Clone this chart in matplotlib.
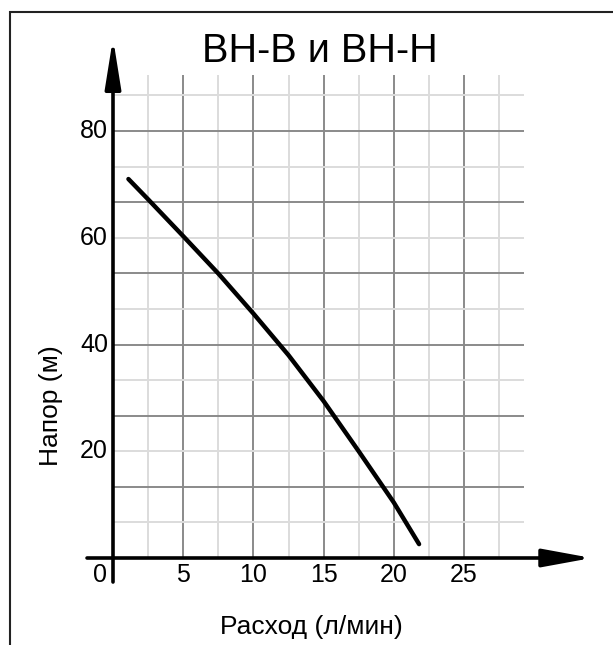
import matplotlib
matplotlib.use("Agg")
import matplotlib.pyplot as plt
import matplotlib.patches as patches
import numpy as np

plt.rcParams['font.family'] = ['Liberation Sans', 'DejaVu Sans']

# Curve: flow (l/min) vs head (m)
flow = [1.1, 2.5, 5.0, 7.5, 10.0, 12.5, 15.0, 17.5, 20.0, 21.8]
head = [71.0, 67.2, 60.3, 53.3, 45.8, 38.0, 29.4, 20.0, 10.4, 2.6]

x_ticks = [5, 10, 15, 20, 25]
y_ticks = [20, 40, 60, 80]
title = 'BH-B и BH-H'
x_label = 'Расход (л/мин)'
y_label = 'Напор (м)'

W, H = 613, 645
fig = plt.figure(figsize=(W / 100, H / 100), dpi=100)
ax = fig.add_axes([0, 0, 1, 1])
ax.axis('off')

# pixel mapping: x=0 at 113px, 14.04px per unit; y=0 at 558px from top, 5.3375px per unit
px_x, x0 = 14.04, 113
px_y, y0 = 5.3375, 558
ax.set_xlim(-x0 / px_x, (W - x0) / px_x)
ax.set_ylim(-(H - y0) / px_y, y0 / px_y)

# frame round the picture
frame = patches.Rectangle((10 / W, -0.1), 1.2, 1.1 - 12 / H, transform=fig.transFigure,
                          fill=False, edgecolor='#222222', linewidth=1.5)
fig.patches.append(frame)

grid_top = 90.5
grid_right = 29.3

# vertical grid
for i, gx in enumerate(np.arange(2.5, 28, 2.5)):
    dark = (i % 2 == 1)
    ax.plot([gx, gx], [0, grid_top], color='#8a8a8a' if dark else '#dcdcdc',
            lw=1.4, zorder=1, solid_capstyle='butt')

# horizontal grid
for i, gy in enumerate(np.arange(1, 14) * 20 / 3):
    if gy > grid_top:
        break
    dark = (i % 2 == 1)
    ax.plot([0, grid_right], [gy, gy], color='#8a8a8a' if dark else '#dcdcdc',
            lw=1.4, zorder=1, solid_capstyle='butt')

# curve
ax.plot(flow, head, color='black', lw=3.2, zorder=3,
        solid_capstyle='round', solid_joinstyle='round')

# axes with arrows
ax.annotate('', xy=(34.1, 0), xytext=(-1.85, 0),
            arrowprops=dict(arrowstyle='-|>,head_length=3.0,head_width=0.55',
                            mutation_scale=10, lw=2.6, color='black',
                            shrinkA=0, shrinkB=0), zorder=4)
ax.annotate('', xy=(0, 97.4), xytext=(0, -4.5),
            arrowprops=dict(arrowstyle='-|>,head_length=3.0,head_width=0.48',
                            mutation_scale=10, lw=2.6, color='black',
                            shrinkA=0, shrinkB=0), zorder=4)

# tick labels
ax.text(-0.9, -3.2, '0', fontsize=18, ha='center', va='center')
for t in x_ticks:
    ax.text(t, -3.2, str(t), fontsize=18, ha='center', va='center')
for t in y_ticks:
    ax.text(-0.35, t, str(t), fontsize=18, ha='right', va='center')

ax.text(14.1, -13.0, x_label, fontsize=19, ha='center', va='center')
ax.text(-4.4, 28.5, y_label, fontsize=19, ha='center', va='center', rotation=90)
ax.text(14.7, 95.0, title, fontsize=28.5, ha='center', va='center')

fig.savefig('out.png', dpi=100)
